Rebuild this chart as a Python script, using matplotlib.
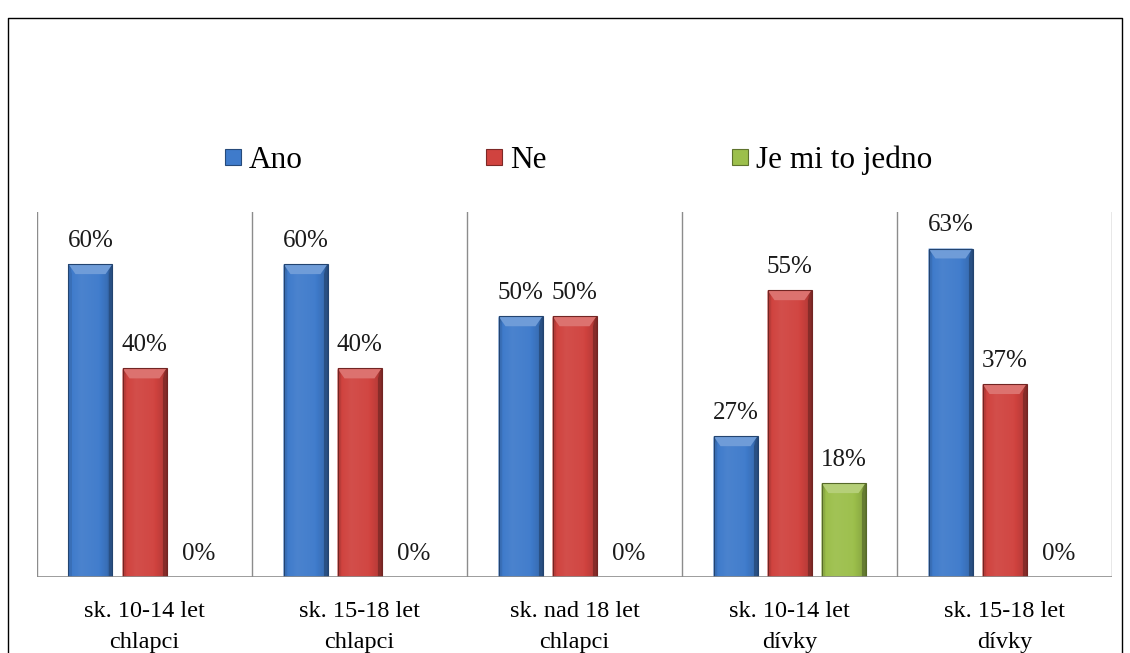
import numpy as np
import matplotlib
matplotlib.use("Agg")
import matplotlib.pyplot as plt
from matplotlib.patches import Polygon, Rectangle
from matplotlib.colors import to_rgb

plt.rcParams['font.family'] = ['Liberation Serif', 'DejaVu Serif']

categories = ["sk. 10-14 let\nchlapci", "sk. 15-18 let\nchlapci", "sk. nad 18 let\nchlapci",
              "sk. 10-14 let\ndívky", "sk. 15-18 let\ndívky"]
ano = [60, 60, 50, 27, 63]
ne = [40, 40, 50, 55, 37]
jedno = [0, 0, 0, 18, 0]
series_names = ["Ano", "Ne", "Je mi to jedno"]
colors = ["#3f7bcb", "#d0433f", "#9cbf4b"]

W, H = 1130, 653
fig = plt.figure(figsize=(W / 100, H / 100), dpi=100)
ax = fig.add_axes([37 / W, (H - 577) / H, (1112 - 37) / W, (577 - 212) / H])

x = np.arange(len(categories))
bw = 44 / 215
step = 54 / 215
ax.set_xlim(-0.5, len(categories) - 0.5)
ax.set_ylim(0, 70)


def shade(c, f):
    c = np.array(to_rgb(c))
    if f >= 0:
        return tuple(c + (1 - c) * f)
    return tuple(c * (1 + f))


def bevel_bar(rect, color):
    x0 = rect.get_x()
    w = rect.get_width()
    h = rect.get_height()
    if h <= 0:
        return
    x1 = x0 + w
    # horizontal gradient
    t = np.linspace(0, 1, 64)
    prof = np.interp(t, [0, 0.08, 0.3, 0.7, 0.9, 1], [-0.3, 0.0, 0.06, 0.02, -0.1, -0.45])
    img = np.array([[shade(color, p) for p in prof]])
    im = ax.imshow(img, extent=[x0, x1, 0, h], aspect='auto', zorder=2, interpolation='bilinear')
    im.set_clip_path(rect)
    dx = 7 / 215
    dy = 10 / 5.235
    top = Polygon([(x0, h), (x1, h), (x1 - dx, h - dy), (x0 + dx, h - dy)],
                  closed=True, facecolor=shade(color, 0.25), edgecolor='none', zorder=3)
    ax.add_patch(top)
    left = Polygon([(x0, h), (x0 + dx * 0.5, h - dy), (x0 + dx * 0.5, 0), (x0, 0)],
                   closed=True, facecolor=shade(color, -0.1), edgecolor='none', zorder=3)
    ax.add_patch(left)
    right = Polygon([(x1, h), (x1 - dx * 0.5, h - dy), (x1 - dx * 0.5, 0), (x1, 0)],
                    closed=True, facecolor=shade(color, -0.35), edgecolor='none', zorder=3)
    ax.add_patch(right)
    ax.add_patch(Rectangle((x0, 0), w, h, fill=False, edgecolor=shade(color, -0.45),
                           linewidth=0.8, zorder=4))


for i, (vals, col) in enumerate(zip([ano, ne, jedno], colors)):
    bars = ax.bar(x + (i - 1) * step, vals, bw, color=col, zorder=2)
    for rect, v in zip(bars, vals):
        bevel_bar(rect, col)
        ax.annotate(f"{v}%", (rect.get_x() + rect.get_width() / 2, v),
                    xytext=(0, 9), textcoords='offset points', ha='center', va='bottom',
                    fontsize=18, color='#1a1a1a')

# separators
for s in np.arange(-0.5, len(categories), 1.0):
    ax.axvline(s, color='#8c8c8c', linewidth=1, zorder=1)

for sp in ax.spines.values():
    sp.set_visible(False)
ax.axhline(0, color='#8c8c8c', linewidth=1.2, zorder=5)
ax.set_yticks([])
ax.set_xticks(x)
ax.set_xticklabels(categories, fontsize=17.5, linespacing=1.62)
ax.tick_params(axis='x', length=0, pad=17)

# legend
leg_x = [225, 486, 732]
leg_y = 157
for lx, name, col in zip(leg_x, series_names, colors):
    fig.patches.append(Rectangle((lx / W, (H - leg_y - 8) / H), 16 / W, 16 / H,
                                 transform=fig.transFigure, facecolor=col,
                                 edgecolor=shade(col, -0.4), linewidth=0.8))
    fig.text((lx + 24) / W, (H - leg_y - 3) / H, name, fontsize=22.5, va='center', ha='left')

# outer border (bottom edge falls outside image)
fig.add_artist(plt.Line2D([8 / W, 8 / W, 1122 / W, 1122 / W],
                          [-0.1, (H - 18) / H, (H - 18) / H, -0.1],
                          transform=fig.transFigure, color='black', linewidth=1))

fig.savefig("out.png", dpi=100)
